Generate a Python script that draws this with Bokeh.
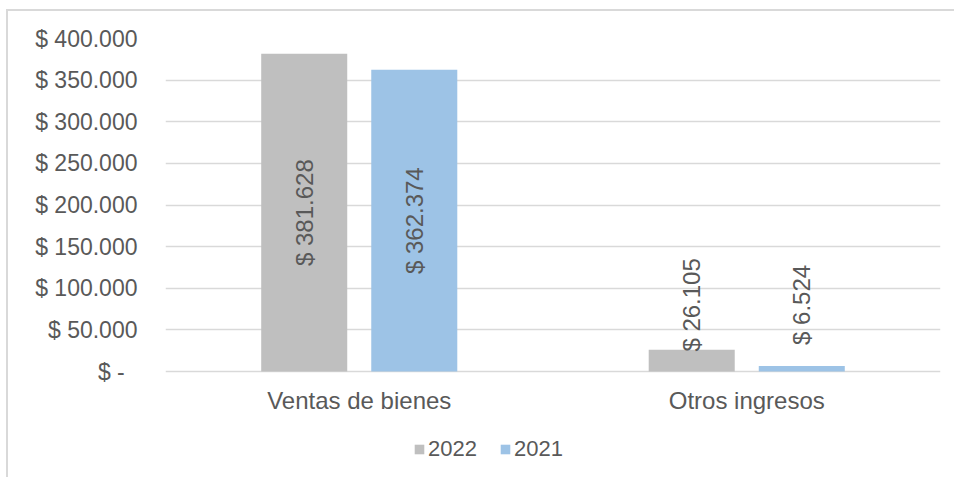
import math
from bokeh.plotting import figure
from bokeh.models import (ColumnDataSource, FactorRange, FixedTicker, Legend, LegendItem, Range1d)
from bokeh.transform import dodge
from bokeh.core.properties import value
from bokeh.embed import file_html
from bokeh.resources import INLINE

categories = ["Ventas de bienes", "Otros ingresos"]
series_names = ["2022", "2021"]
values_2022 = [381628, 26105]
values_2021 = [362374, 6524]
tick_values = [0, 50000, 100000, 150000, 200000, 250000, 300000, 350000, 400000]
tick_labels = ["$ -\u00a0\u00a0", "$ 50.000", "$ 100.000", "$ 150.000", "$ 200.000",
               "$ 250.000", "$ 300.000", "$ 350.000", "$ 400.000"]

GRAY = "#bfbfbf"
BLUE = "#9dc3e6"
TEXT = "#595959"
GRID = "#d9d9d9"
FONT = "Liberation Sans"
Y_MAX = tick_values[-1]


def fmt(v):
    return "$ " + f"{v:,}".replace(",", ".")


def label_pos(v):
    return v / 2 if v > Y_MAX / 4 else Y_MAX * 0.2


src = ColumnDataSource(dict(
    cat=categories,
    v2022=values_2022,
    v2021=values_2021,
    l2022=[fmt(v) for v in values_2022],
    l2021=[fmt(v) for v in values_2021],
    y2022=[label_pos(v) for v in values_2022],
    y2021=[label_pos(v) for v in values_2021],
    ycat=[-Y_MAX * 0.087] * len(categories),
))

p = figure(width=948, height=468, x_range=FactorRange(*categories, range_padding=0),
           y_range=Range1d(-Y_MAX * 0.3243, Y_MAX), output_backend="svg", toolbar_location=None,
           min_border_left=157, min_border_right=16, min_border_top=27, min_border_bottom=0)
p.outline_line_color = None
p.background_fill_color = "white"
p.border_fill_color = "white"
p.styles = {"border-left": "2px solid #d9d9d9", "border-top": "2px solid #d9d9d9",
            "margin-left": "6px", "margin-top": "9px"}

OFF = 0.142
W = 0.222
r1 = p.vbar(x=dodge("cat", -OFF, range=p.x_range), top="v2022", width=W, source=src,
            fill_color=GRAY, line_color=None)
r2 = p.vbar(x=dodge("cat", OFF, range=p.x_range), top="v2021", width=W, source=src,
            fill_color=BLUE, line_color=None)

for xo, col, ycol in [(-OFF, "l2022", "y2022"), (OFF, "l2021", "y2021")]:
    p.text(x=dodge("cat", xo, range=p.x_range), y=ycol, text=col, source=src,
           angle=math.pi / 2, text_align="center", text_baseline="middle",
           text_font=value(FONT), text_font_size="24px", text_color=TEXT)

# category labels (x axis)
p.text(x="cat", y="ycat", text="cat", source=src, text_align="center",
       text_baseline="middle", text_font=value(FONT), text_font_size="24px",
       text_color=TEXT)
p.xaxis.visible = False

# grid
p.xgrid.grid_line_color = None
p.ygrid.grid_line_color = GRID
p.ygrid.grid_line_width = 1.5
p.ygrid.ticker = FixedTicker(ticks=tick_values)

# y axis
ya = p.yaxis[0]
ya.ticker = FixedTicker(ticks=tick_values)
ya.major_label_overrides = {t: l for t, l in zip(tick_values, tick_labels)}
ya.axis_line_color = None
ya.major_tick_line_color = None
ya.minor_tick_line_color = None
ya.major_tick_out = 0
ya.major_tick_in = 0
ya.major_label_standoff = 28
ya.major_label_text_font = FONT
ya.major_label_text_font_size = "23px"
ya.major_label_text_color = TEXT

legend = Legend(items=[LegendItem(label=series_names[0], renderers=[r1]),
                       LegendItem(label=series_names[1], renderers=[r2])],
                location=(248, 17), orientation="horizontal",
                padding=0, margin=0, spacing=22, label_standoff=3,
                glyph_width=12, glyph_height=12, label_height=20,
                label_text_font=FONT, label_text_font_size="22px",
                label_text_color=TEXT, border_line_color=None,
                background_fill_alpha=0)
p.add_layout(legend, "center")

open("out.html", "w").write(file_html(p, INLINE))
